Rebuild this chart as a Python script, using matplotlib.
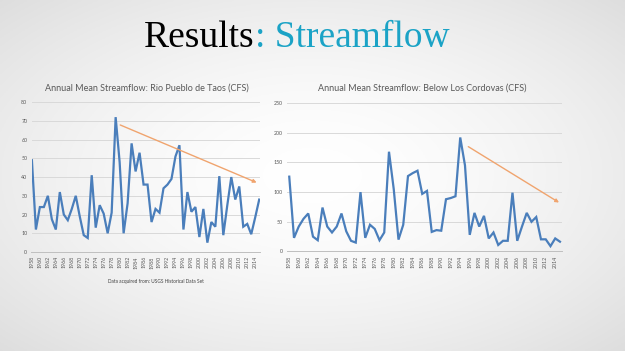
import numpy as np
import matplotlib
matplotlib.use("Agg")
import matplotlib.pyplot as plt

# annual mean streamflow (CFS)
years = list(range(1958, 2016))
taos = [49, 12, 24, 24, 30, 17.5, 12, 32, 20, 17, 23, 30, 19, 9, 7.5, 41, 13, 25, 20.5, 10,
        21, 72, 48, 10, 26, 58, 43, 53, 36, 36, 16, 23, 21, 34, 36, 39, 51, 57, 12, 32,
        21.5, 24, 8, 23, 5, 16, 13.5, 40.5, 9, 25, 40, 28, 35, 13.5, 15, 9.5, 18.5, 28]
cordovas = [126, 23, 42, 55, 64, 25, 19, 74, 42, 32, 42, 64, 34, 18, 15, 100, 23, 45, 38, 19,
            32, 168, 105, 20, 45, 127, 132, 136, 97, 102, 33, 36, 35, 88, 90, 93, 192, 145, 28, 65,
            42, 60, 22, 32, 11, 18, 18, 99, 18, 42, 65, 50, 58, 20.5, 20.5, 9, 22, 16.5]

taos_trend_x = [1979.5, 2015]
taos_trend_y = [68.4, 36.5]
cord_trend_x = [1995.2, 2015.3]
cord_trend_y = [179, 80]

title_left = "Annual Mean Streamflow: Rio Pueblo de Taos (CFS)"
title_right = "Annual Mean Streamflow: Below Los Cordovas (CFS)"

BLUE = "#4a7ebb"
ORANGE = "#f0a46e"
GRID = "#d9d9d9"
TXT = "#595959"

fig = plt.figure(figsize=(6.25, 3.51), dpi=100)

# slide background: white centre fading to light grey
bg = fig.add_axes([0, 0, 1, 1], zorder=-10)
gx, gy = np.meshgrid(np.linspace(-1, 1, 300), np.linspace(-1, 1, 170))
r = np.sqrt(gx ** 2 + gy ** 2) / np.sqrt(2)
shade = 1.0 - 0.13 * r ** 1.6
bg.imshow(np.dstack([shade, shade, shade]), aspect="auto", extent=[0, 1, 0, 1])
bg.set_axis_off()

fig.text(0.408, 0.892, "Results", ha="right", va="center", fontsize=27,
         family="Liberation Serif", color="black")
fig.text(0.408, 0.892, ": Streamflow", ha="left", va="center", fontsize=27,
         family="Liberation Serif", color="#1ba3c6")


def style(ax, ymax, ystep, xlim):
    ax.set_facecolor("none")
    ax.set_xlim(*xlim)
    ax.set_ylim(0, ymax)
    ax.set_yticks(np.arange(0, ymax + 1, ystep))
    ax.set_xticks(years[::2])
    ax.set_xticklabels([str(y) for y in years[::2]], rotation=90)
    ax.grid(axis="y", color=GRID, lw=0.7)
    ax.set_axisbelow(True)
    for s in ["top", "right", "left"]:
        ax.spines[s].set_visible(False)
    ax.spines["bottom"].set_color("#bfbfbf")
    ax.spines["bottom"].set_linewidth(0.7)
    ax.tick_params(axis="both", length=0, labelsize=3.8, colors=TXT, pad=3)
    for lab in ax.get_xticklabels() + ax.get_yticklabels():
        lab.set_family("Lato")


ax1 = fig.add_axes([0.0504, 0.282, 0.3656, 0.427])
style(ax1, 80, 10, (1957.9, 2015.2))
ax1.plot(years, taos, color=BLUE, lw=1.6, solid_joinstyle="miter")
ax1.annotate("", xy=(taos_trend_x[1], taos_trend_y[1]), xytext=(taos_trend_x[0], taos_trend_y[0]),
             arrowprops=dict(arrowstyle="-|>", color=ORANGE, lw=1.0, mutation_scale=5))
fig.text(0.235, 0.75, title_left, ha="center", va="center", fontsize=6.5,
         family="Lato", color=TXT)

ax2 = fig.add_axes([0.459, 0.2835, 0.44, 0.423])
style(ax2, 250, 50, (1957.5, 2015.4))
ax2.plot(years, cordovas, color=BLUE, lw=1.6, solid_joinstyle="miter")
ax2.annotate("", xy=(cord_trend_x[1], cord_trend_y[1]), xytext=(cord_trend_x[0], cord_trend_y[0]),
             arrowprops=dict(arrowstyle="-|>", color=ORANGE, lw=1.0, mutation_scale=5))
fig.text(0.675, 0.75, title_right, ha="center", va="center", fontsize=6.5,
         family="Lato", color=TXT)

fig.text(0.25, 0.197, "Data acquired from: USGS Historical Data Set", ha="center",
         va="center", fontsize=3.4, family="Lato", color="#404040")

fig.savefig("out.png", dpi=100)
